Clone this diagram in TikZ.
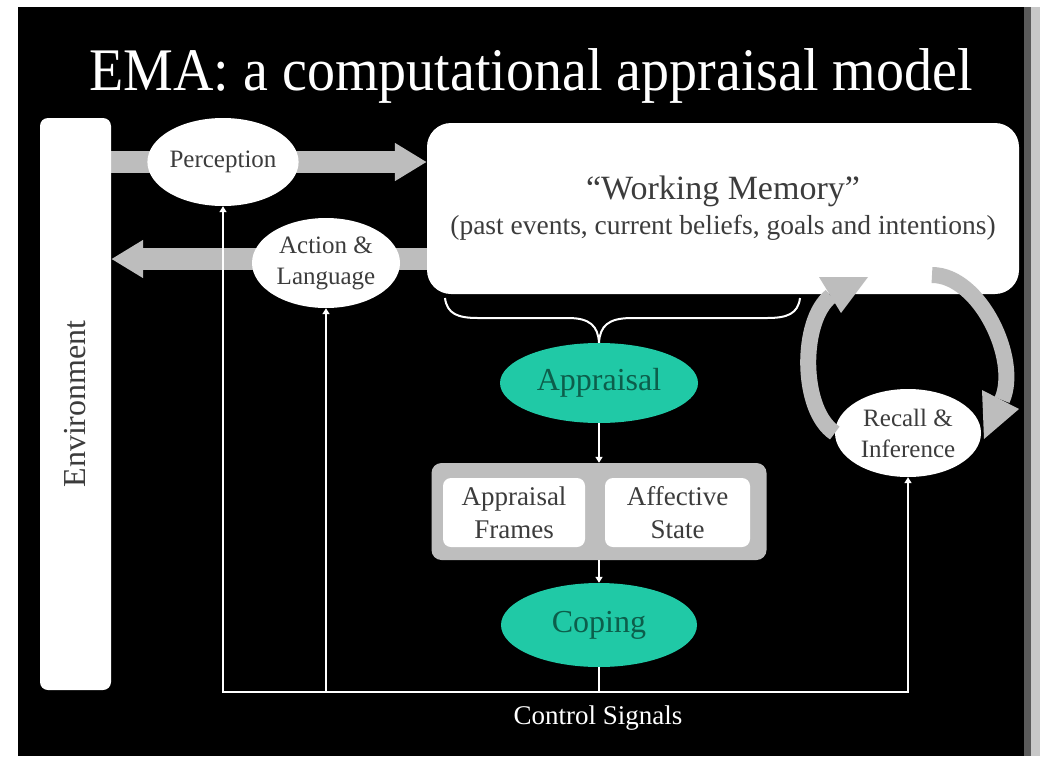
\documentclass[tikz,border=0pt]{standalone}
\usepackage{fontspec}
\setmainfont{Liberation Serif}
\usetikzlibrary{shapes.geometric,arrows.meta,calc}
\pgfdeclarelayer{under}
\pgfsetlayers{under,main}

\definecolor{flowgray}{HTML}{BDBDBD}
\definecolor{framegray}{HTML}{BEBEBE}
\definecolor{emateal}{HTML}{20C9A6}
\definecolor{tealink}{HTML}{0C5E4B}
\definecolor{ink}{HTML}{3C3C3C}
\definecolor{edgegray}{HTML}{5A5A5A}
\definecolor{paleedge}{HTML}{C8C8C8}

\tikzset{
  whiteoval/.style={ellipse, fill=white, inner sep=0pt, text=ink, align=center,
    font=\fontsize{25}{31}\selectfont},
  tealoval/.style={ellipse, fill=emateal, inner sep=0pt, text=tealink,
    font=\fontsize{32}{36}\selectfont},
  whitebox/.style={rectangle, fill=white, inner sep=0pt, text=ink, align=center},
  bigflow/.style={draw=flowgray, line width=22pt,
    -{Triangle[length=32pt,width=36pt]}},
  sig/.style={draw=white, line width=2.6pt},
  sigtip/.style={sig, -{Triangle[length=6pt,width=7pt]}},
  bracepath/.style={draw=white, line width=2pt},
  cycleshaft/.style={draw=flowgray, line width=16pt},
  cyclehead/.style={fill=flowgray},
}

\begin{document}
\begin{tikzpicture}[x=1pt,y=-1pt]
\useasboundingbox (0,0) rectangle (1040,758);

% slide background
\begin{pgfonlayer}{under}
  \fill[white] (0,0) rectangle (1040,758);
  \fill[paleedge] (1031,7) rectangle (1040,756);
  \fill[edgegray] (1024,7) rectangle (1031,756);
  \fill[black] (18,7) rectangle (1024,756);
\end{pgfonlayer}

% title
\node[text=white, anchor=base, font=\fontsize{56}{60}\selectfont] (title) at (531,90)
  {\scalebox{1}[1.08]{EMA: a computational appraisal model}};

% environment column
\node[whitebox, rotate=90, rounded corners=8pt, minimum width=572pt, minimum height=71pt,
  font=\fontsize{32}{36}\selectfont] (env) at (75.5,404) {Environment};

% working memory
\node[whitebox, rounded corners=24pt, minimum width=592pt, minimum height=171pt] (wm) at (723,208.5)
  {\fontsize{34}{38}\selectfont “Working Memory”\\[7pt]
   \fontsize{27.5}{32}\selectfont (past events, current beliefs, goals and intentions)};

% perception / action
\node[whiteoval, minimum width=144pt, minimum height=88pt] (perc) at (223,162) {Perception};
\node[whiteoval, minimum width=148pt, minimum height=90pt] (act) at (326,263) {Action \&\\Language};

% flows to and from the environment
\begin{pgfonlayer}{under}
  \draw[bigflow] (env.south |- perc.center) -- (wm.west |- perc.center);
  \draw[bigflow] ($(wm.west |- act.center)+(0,-4)$) -- ($(env.south |- act.center)+(0,-4)$);
\end{pgfonlayer}

% appraisal chain
\node[tealoval, minimum width=198pt, minimum height=80pt] (appr) at (599,383) {Appraisal};
\node[rectangle, fill=framegray, rounded corners=10pt, minimum width=335pt, minimum height=97pt]
  (grp) at (599,511.5) {};
\node[whitebox, rounded corners=8pt, minimum width=142pt, minimum height=69pt,
  font=\fontsize{27}{33}\selectfont] (frames) at (514,512.5) {Appraisal\\Frames};
\node[whitebox, rounded corners=8pt, minimum width=145pt, minimum height=69pt,
  font=\fontsize{27}{33}\selectfont] (affect) at (677.5,512.5) {Affective\\State};
\node[tealoval, minimum width=196pt, minimum height=84pt] (cop) at (599,625) {Coping};

% recall and inference
\node[whiteoval, minimum width=146pt, minimum height=88pt] (rec) at (908,433) {Recall \&\\Inference};

% brace gathering working memory into appraisal
\draw[bracepath] (445,298) .. controls (447,314) and (458,318) .. (478,318)
  -- (568,318) .. controls (590,318) and (598,326) .. (appr.north);
\draw[bracepath] (800,298) .. controls (798,314) and (787,318) .. (767,318)
  -- (632,318) .. controls (608,318) and (600,326) .. (appr.north);

% appraisal -> frames -> coping
\draw[sigtip] (appr.south) -- (appr.south |- grp.north);
\draw[sigtip] (grp.south) -- (grp.south |- cop.north);

% control signals bus
\coordinate (bus) at (0,692);
\draw[sig] (cop.south) -- (cop.south |- bus);
\draw[sig, line cap=rect] (perc.south |- bus) -- (rec.south |- bus);
\draw[sigtip] (perc.south |- bus) -- (perc.south);
\draw[sigtip] (act.south |- bus) -- (act.south);
\draw[sigtip] (rec.south |- bus) -- (rec.south);
\node[text=white, font=\fontsize{27}{30}\selectfont] (ctl) at (598,718) {Control Signals};

% recall / working memory cycle
\coordinate (upend) at (831,296);
\coordinate (downstart) at (932,275);
\coordinate (downend) at (1002,400);
\draw[cycleshaft] (rec.west) .. controls (800,410) and (800,320) .. (upend);
\fill[cyclehead] (819,277) -- (868,277) -- (841,313) -- cycle;
\draw[cycleshaft] (downstart) .. controls (980,275) and (1020,360) .. (downend);
\fill[cyclehead] (1019,409) -- (984,439) -- (982,390) -- cycle;
\end{tikzpicture}
\end{document}
